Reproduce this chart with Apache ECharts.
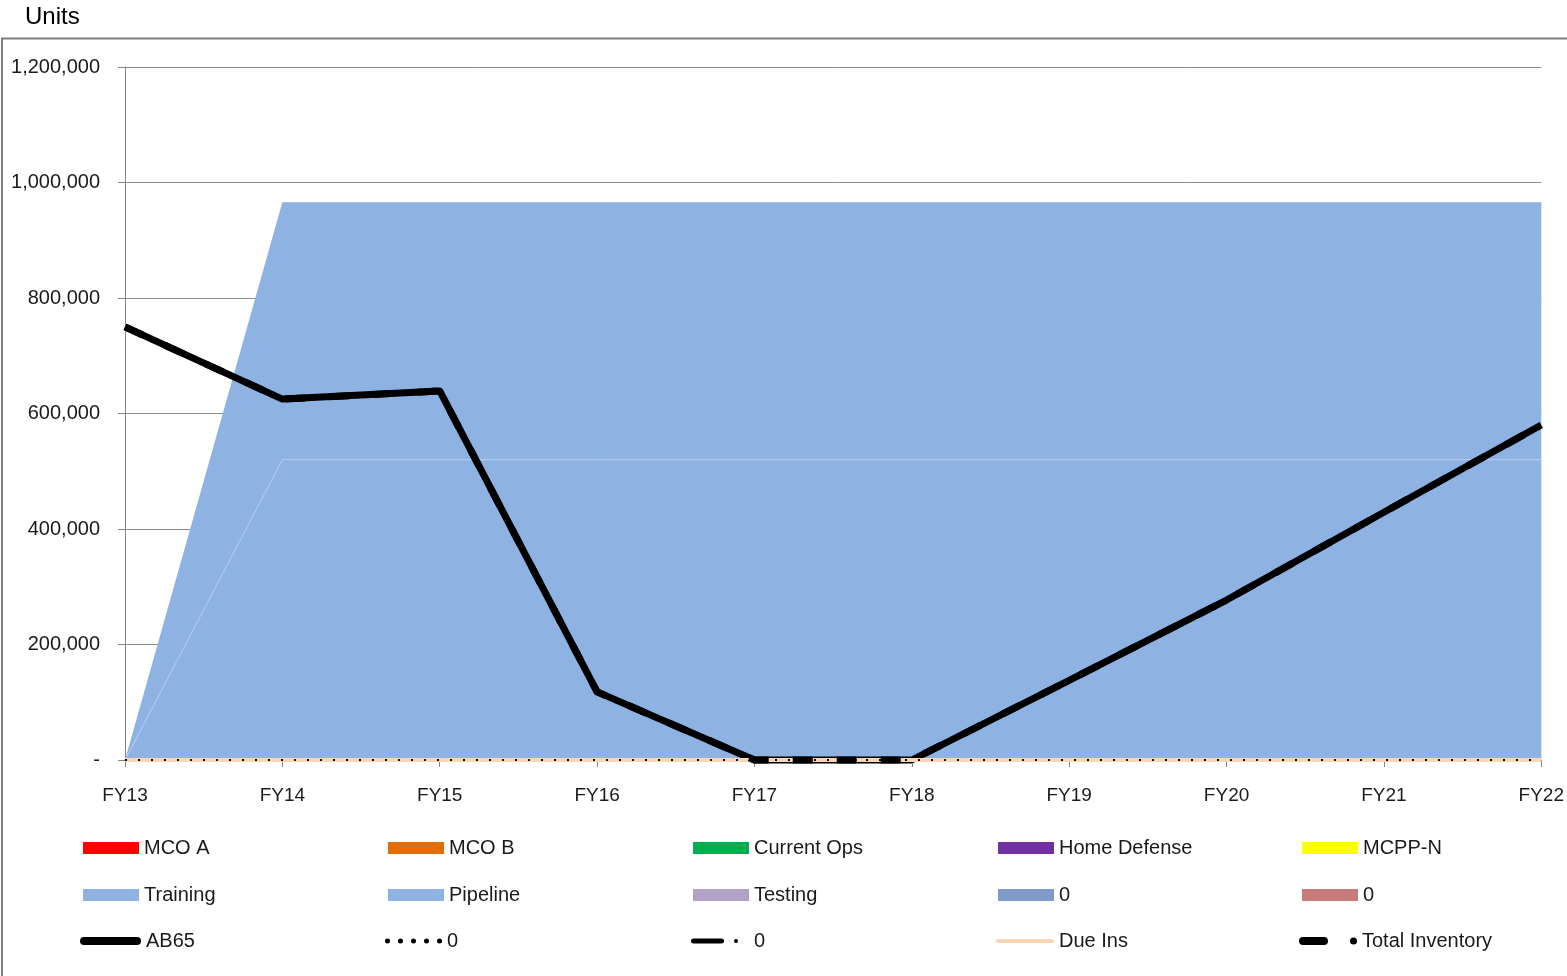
<!DOCTYPE html>
<html>
<head>
<meta charset="utf-8">
<script src="https://cdn.jsdelivr.net/npm/echarts@6/dist/echarts.min.js"></script>
<style>
html,body{margin:0;padding:0;background:#fff;}
#chart{width:1567px;height:976px;}
</style>
</head>
<body>
<div id="chart"></div>
<script>
const categories = ['FY13','FY14','FY15','FY16','FY17','FY18','FY19','FY20','FY21','FY22'];
const yTicks = [0, 200000, 400000, 600000, 800000, 1000000, 1200000];
const mcoA = [0,0,0,0,0,0,0,0,0,0];
const mcoB = [0,0,0,0,0,0,0,0,0,0];
const currentOps = [0,0,0,0,0,0,0,0,0,0];
const homeDefense = [0,0,0,0,0,0,0,0,0,0];
const mcppN = [0,0,0,0,0,0,0,0,0,0];
const training = [0,520000,520000,520000,520000,520000,520000,520000,520000,520000];
const pipeline = [0,446000,446000,446000,446000,446000,446000,446000,446000,446000];
const testing = [0,0,0,0,0,0,0,0,0,0];
const zeroA = [0,0,0,0,0,0,0,0,0,0];
const zeroB = [0,0,0,0,0,0,0,0,0,0];
const ab65 = [750000,625000,639000,118000,0,0,138000,277000,429000,580000];
const zeroDotted = [0,0,0,0,0,0,0,0,0,0];
const zeroDashDot = [0,0,0,0,0,0,0,0,0,0];
const dueIns = [0,0,0,0,0,0,0,0,0,0];
const totalInventory = [750000,625000,639000,118000,0,0,138000,277000,429000,580000];

const FONT = '"Liberation Sans", Arial, sans-serif';
const AREA_BLUE = '#8EB3E2';

function areaSeries(name, data, color, lineColor, lineWidth) {
  return {
    name: name, type: 'line', stack: 'inv', data: data,
    symbol: 'none', smooth: false, color: color,
    lineStyle: { width: lineWidth, color: lineColor },
    areaStyle: { color: color, opacity: 1 },
    emphasis: { disabled: true }, z: 1
  };
}
function lineSeries(name, data, color, width, dash, z, cap) {
  return {
    name: name, type: 'line', data: data, symbol: 'none', color: color,
    clip: false,
    lineStyle: { width: width, color: color, type: dash, cap: cap || 'butt', join: 'round' },
    emphasis: { disabled: true }, z: z
  };
}

const series = [
  areaSeries('MCO A', mcoA, '#FF0000', '#FF0000', 0),
  areaSeries('MCO B', mcoB, '#E46C0A', '#E46C0A', 0),
  areaSeries('Current Ops', currentOps, '#00B050', '#00B050', 0),
  areaSeries('Home Defense', homeDefense, '#7030A0', '#7030A0', 0),
  areaSeries('MCPP-N', mcppN, '#FFFF00', '#FFFF00', 0),
  areaSeries('Training', training, AREA_BLUE, '#B3CAEC', 1),
  areaSeries('Pipeline', pipeline, AREA_BLUE, AREA_BLUE, 0),
  areaSeries('Testing', testing, '#B3A2C7', '#B3A2C7', 0),
  areaSeries('0\u200b', zeroA, '#7F9BC9', '#7F9BC9', 0),
  areaSeries('0\u200b\u200b', zeroB, '#C97B7B', '#C97B7B', 0),
  lineSeries('AB65', ab65, '#000000', 7, 'solid', 5, 'butt'),
  lineSeries('0', zeroDotted, '#000000', 2, [2, 11], 8),
  lineSeries('0\u200b\u200b\u200b', zeroDashDot, '#000000', 0, 'solid', 3),
  lineSeries('Due Ins', dueIns, '#FCD5B5', 4, 'solid', 6),
  lineSeries('Total Inventory', totalInventory, '#000000', 7, [20, 24], 7)
];

const labelMap = {'0\u200b':'0','0\u200b\u200b':'0','0\u200b\u200b\u200b':'  0'};

// legend layout
const colX = [83, 388, 693, 998, 1302];
const rowY = [848, 895, 941];
const RECT = 'rect';
const legendItems = [
  {name:'MCO A', c:0, r:0, icon:RECT, w:56, h:12, color:'#FF0000'},
  {name:'MCO B', c:1, r:0, icon:RECT, w:56, h:12, color:'#E46C0A'},
  {name:'Current Ops', c:2, r:0, icon:RECT, w:56, h:12, color:'#00B050'},
  {name:'Home Defense', c:3, r:0, icon:RECT, w:56, h:12, color:'#7030A0'},
  {name:'MCPP-N', c:4, r:0, icon:RECT, w:56, h:12, color:'#FFFF00'},
  {name:'Training', c:0, r:1, icon:RECT, w:56, h:12, color:AREA_BLUE},
  {name:'Pipeline', c:1, r:1, icon:RECT, w:56, h:12, color:AREA_BLUE},
  {name:'Testing', c:2, r:1, icon:RECT, w:56, h:12, color:'#B3A2C7'},
  {name:'0\u200b', c:3, r:1, icon:RECT, w:56, h:12, color:'#7F9BC9'},
  {name:'0\u200b\u200b', c:4, r:1, icon:RECT, w:56, h:12, color:'#C97B7B'},
  {name:'AB65', c:0, r:2, dx:-3, icon:'path://M4,0 H57 A4,4 0 0 1 57,8 H4 A4,4 0 0 1 4,0 Z', w:61, h:8, color:'#000000'},
  {name:'0', c:1, r:2, dx:-3, icon:'path://M0,2.5 A2.5,2.5 0 1 0 5,2.5 A2.5,2.5 0 1 0 0,2.5 Z M13,2.5 A2.5,2.5 0 1 0 18,2.5 A2.5,2.5 0 1 0 13,2.5 Z M26,2.5 A2.5,2.5 0 1 0 31,2.5 A2.5,2.5 0 1 0 26,2.5 Z M39,2.5 A2.5,2.5 0 1 0 44,2.5 A2.5,2.5 0 1 0 39,2.5 Z M52,2.5 A2.5,2.5 0 1 0 57,2.5 A2.5,2.5 0 1 0 52,2.5 Z', w:57, h:5, color:'#000000'},
  {name:'0\u200b\u200b\u200b', c:2, r:2, dx:-2, icon:'path://M2.5,0 H30.5 A2.5,2.5 0 0 1 30.5,5 H2.5 A2.5,2.5 0 0 1 2.5,0 Z M43,2.5 A2,2 0 1 0 47,2.5 A2,2 0 1 0 43,2.5 Z', w:47, h:5, color:'#000000'},
  {name:'Due Ins', c:3, r:2, dx:-2, icon:'path://M2,0 H56 A2,2 0 0 1 56,4 H2 A2,2 0 0 1 2,0 Z', w:58, h:4, color:'#FCD5B5'},
  {name:'Total Inventory', c:4, r:2, dx:-3, icon:'path://M4,0 H25 A4,4 0 0 1 25,8 H4 A4,4 0 0 1 4,0 Z M51,4 A3.5,3.5 0 1 0 58,4 A3.5,3.5 0 1 0 51,4 Z', w:58, h:8, color:'#000000'}
];
const LEGEND_LH = 22;
const legends = legendItems.map(function (it) {
  return {
    left: colX[it.c] + (it.dx || 0),
    top: rowY[it.r] - LEGEND_LH / 2,
    padding: 0,
    orient: 'horizontal',
    selectedMode: false,
    itemWidth: it.w,
    itemHeight: it.h,
    itemGap: 0,
    formatter: function (n) { return labelMap[n] !== undefined ? labelMap[n] : n; },
    textStyle: { fontFamily: FONT, fontSize: 20, color: '#1a1a1a', lineHeight: LEGEND_LH },
    data: [{ name: it.name, icon: it.icon, itemStyle: { color: it.color, borderWidth: 0, opacity: 1 } }]
  };
});

const chart = echarts.init(document.getElementById('chart'), null, { renderer: 'canvas' });
chart.setOption({
  animation: false,
  backgroundColor: '#ffffff',
  title: {
    text: 'Units', left: 25, top: 5, padding: 0,
    textStyle: { fontFamily: FONT, fontSize: 24, fontWeight: 'normal', color: '#000' }
  },
  graphic: [{
    type: 'rect', silent: true, z: 0,
    shape: { x: 2, y: 38.5, width: 1600, height: 1000 },
    style: { fill: 'none', stroke: '#7F7F7F', lineWidth: 2 }
  }],
  legend: legends,
  grid: { left: 125, right: 24, top: 67, bottom: 216, containLabel: false },
  xAxis: {
    type: 'category', data: categories, boundaryGap: false,
    axisLine: { show: true, lineStyle: { color: '#868686', width: 1 } },
    axisTick: { show: true, length: 7, interval: 0, lineStyle: { color: '#868686' } },
    axisLabel: { interval: 0, margin: 26, fontFamily: FONT, fontSize: 19, color: '#1a1a1a' },
    splitLine: { show: false }
  },
  yAxis: {
    type: 'value', min: yTicks[0], max: yTicks[yTicks.length - 1],
    interval: yTicks[1] - yTicks[0],
    axisLine: { show: true, lineStyle: { color: '#868686', width: 1 } },
    axisTick: { show: true, length: 7, lineStyle: { color: '#868686' } },
    axisLabel: {
      margin: 25, fontFamily: FONT, fontSize: 20, color: '#1a1a1a',
      formatter: function (v) { return v === 0 ? '-' : v.toLocaleString('en-US'); }
    },
    splitLine: { show: true, lineStyle: { color: '#8C8C8C', width: 1 } }
  },
  series: series
});
</script>
</body>
</html>
